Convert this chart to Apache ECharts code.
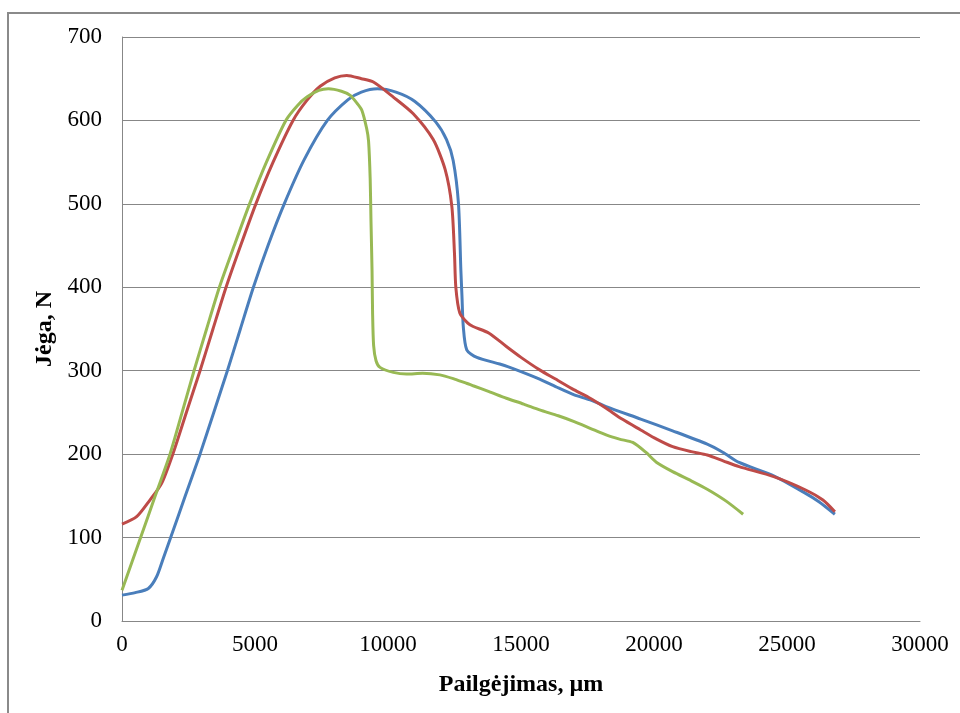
<!DOCTYPE html>
<html>
<head>
<meta charset="utf-8">
<script src="https://cdn.jsdelivr.net/npm/echarts@6/dist/echarts.min.js"></script>
<style>
  html, body { margin: 0; padding: 0; background: #fff; }
  #chart { width: 960px; height: 713px; }
</style>
</head>
<body>
<div id="chart"></div>
<script>
// Tensile test curves: force (N) against elongation (µm)
const xTicks = { min: 0, max: 30000, interval: 5000 };
const yTicks = { min: 0, max: 700, interval: 100 };

const sample1 = [
  [0, 31], [500, 34], [990, 39], [1300, 53], [1550, 75], [1830, 100], [2380, 150],
  [2934, 200], [3450, 250], [3962, 300], [4450, 350], [4940, 400], [5500, 451],
  [6100, 500], [6850, 553], [7720, 600], [8500, 625], [9000, 634], [9600, 638],
  [10300, 634], [11000, 623], [11800, 598], [12200, 577], [12450, 552], [12650, 500],
  [12740, 420], [12780, 390], [12830, 353], [12960, 325], [13340, 316], [14200, 308],
  [14500, 305], [15000, 299], [15700, 290], [16300, 281], [17000, 271], [17600, 265],
  [18200, 257], [19500, 242], [20700, 228], [22000, 212], [22600, 202], [23200, 190],
  [24500, 174], [25700, 153], [26200, 143], [26800, 128]
];

const sample2 = [
  [0, 116], [550, 125], [1050, 145], [1490, 165], [1910, 200], [2420, 250],
  [2934, 300], [3420, 350], [3912, 400], [4460, 450], [5033, 500], [5680, 550],
  [6430, 600], [6950, 624], [7450, 641], [8000, 651], [8450, 654], [9000, 650],
  [9450, 646], [10200, 628], [10950, 608], [11700, 577], [12150, 541], [12400, 497],
  [12500, 440], [12550, 400], [12700, 369], [13000, 357], [13200, 353], [13800, 345],
  [14450, 329], [15000, 316], [15700, 301], [16300, 290], [17000, 277], [17600, 267],
  [18200, 255], [18800, 242], [19500, 229], [20100, 218], [20700, 209], [21400, 203],
  [22000, 199], [22600, 192], [23200, 185], [24500, 173], [25700, 157], [26350, 145],
  [26800, 131]
];

const sample3 = [
  [0, 37], [700, 100], [1250, 150], [1805, 200], [2260, 250], [2708, 300],
  [3180, 350], [3661, 400], [4220, 450], [4796, 500], [5430, 550], [6160, 600],
  [6600, 618], [6950, 628], [7400, 636], [7760, 638], [8250, 635], [8580, 630],
  [8850, 620], [9020, 612], [9200, 590], [9270, 575], [9330, 530], [9360, 480],
  [9400, 420], [9420, 370], [9460, 330], [9550, 312], [9700, 304], [10200, 298],
  [10700, 296], [11300, 297], [11950, 295], [12500, 290], [12950, 285], [13200, 282],
  [13800, 275], [14450, 267], [15100, 260], [15700, 253], [16400, 246], [17000, 239],
  [17600, 231], [18200, 223], [18700, 218], [19200, 214], [19700, 202], [20100, 190],
  [20700, 179], [21400, 168], [22000, 158], [22700, 144], [23350, 128]
];

const xTitle = 'Pailgėjimas, µm';
const yTitle = 'Jėga, N';

const serif = '"Liberation Serif", "DejaVu Serif", serif';
const gridColor = '#878787';

function curve(name, data, color) {
  return {
    name: name,
    type: 'line',
    data: data,
    smooth: 0.25,
    showSymbol: false,
    lineStyle: { color: color, width: 3 },
    itemStyle: { color: color }
  };
}

const chart = echarts.init(document.getElementById('chart'), null, { renderer: 'canvas' });
chart.setOption({
  backgroundColor: '#ffffff',
  animation: false,
  grid: { left: 122, top: 37, right: 40, bottom: 92, outerBoundsMode: 'none' },
  graphic: [{
    type: 'rect',
    shape: { x: 8, y: 13, width: 980, height: 730 },
    style: { fill: 'none', stroke: '#8a8a8a', lineWidth: 2 },
    silent: true
  }],
  xAxis: {
    type: 'value',
    min: xTicks.min, max: xTicks.max, interval: xTicks.interval,
    name: xTitle,
    nameLocation: 'middle',
    nameGap: 52,
    nameTextStyle: { fontFamily: serif, fontWeight: 'bold', fontSize: 24, color: '#000' },
    axisLine: { show: true, lineStyle: { color: gridColor, width: 1 } },
    axisTick: { show: false },
    axisLabel: { fontFamily: serif, fontSize: 23, color: '#000', margin: 12,
                 formatter: (v) => String(v) },
    splitLine: { show: false }
  },
  yAxis: {
    type: 'value',
    min: yTicks.min, max: yTicks.max, interval: yTicks.interval,
    name: yTitle,
    nameLocation: 'middle',
    nameGap: 58,
    nameRotate: 90,
    nameTextStyle: { fontFamily: serif, fontWeight: 'bold', fontSize: 24, color: '#000' },
    axisLine: { show: true, lineStyle: { color: gridColor, width: 1 } },
    axisTick: { show: false },
    axisLabel: { fontFamily: serif, fontSize: 23, color: '#000', margin: 20,
                 formatter: (v) => String(v) },
    splitLine: { show: true, lineStyle: { color: gridColor, width: 1 } }
  },
  series: [
    curve('Bandinys 1', sample1, '#4a7ebb'),
    curve('Bandinys 2', sample2, '#be4b48'),
    curve('Bandinys 3', sample3, '#98b954')
  ]
});
</script>
</body>
</html>
